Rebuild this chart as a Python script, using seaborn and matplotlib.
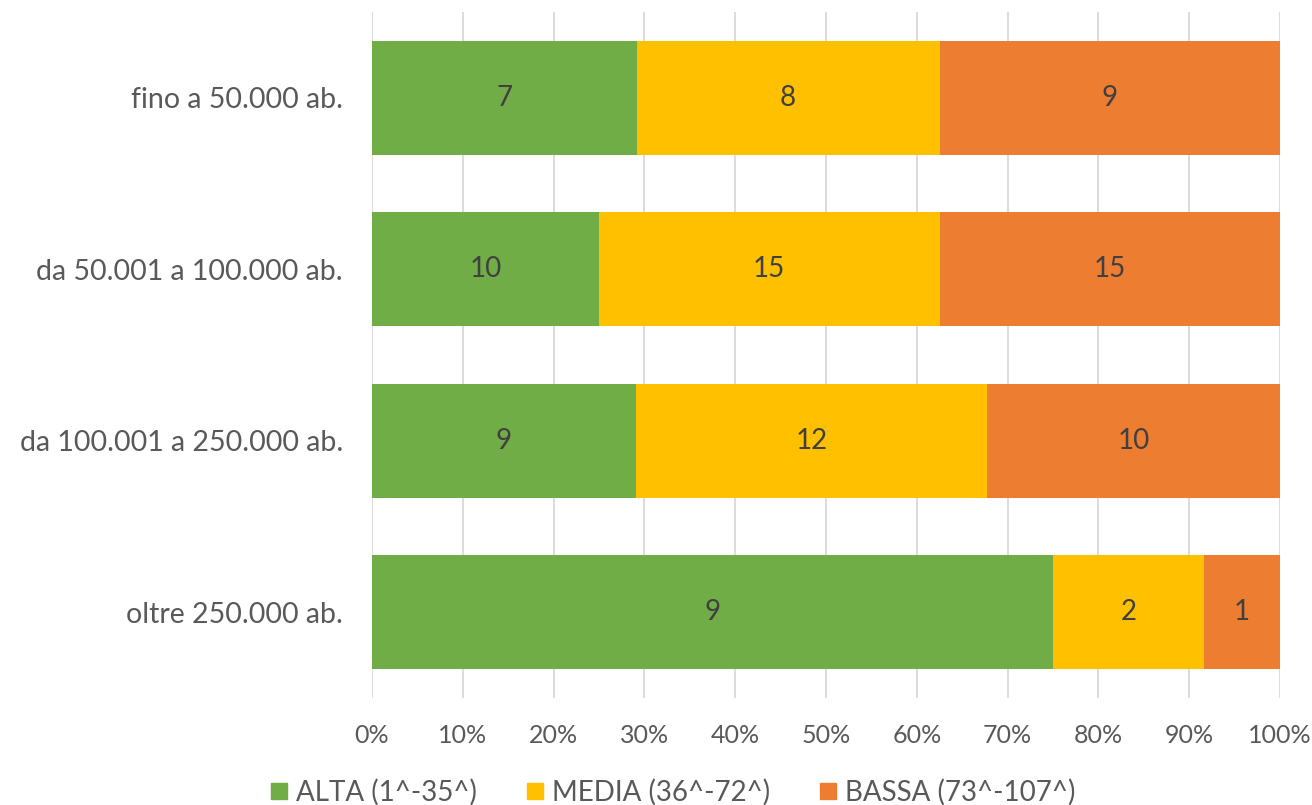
import numpy as np
import pandas as pd
import matplotlib
matplotlib.use("Agg")
import matplotlib.pyplot as plt
from matplotlib.lines import Line2D
import seaborn as sns

categories = ["fino a 50.000 ab.", "da 50.001 a 100.000 ab.",
              "da 100.001 a 250.000 ab.", "oltre 250.000 ab."]
alta = [7, 10, 9, 9]
media = [8, 15, 12, 2]
bassa = [9, 15, 10, 1]
series_names = ["ALTA (1^-35^)", "MEDIA (36^-72^)", "BASSA (73^-107^)"]
colors = ["#70AD47", "#FFC000", "#ED7D31"]
xtick_labels = [f"{v}%" for v in range(0, 101, 10)]

sns.set_theme(style="white")
plt.rcParams["font.family"] = ["Lato", "DejaVu Sans"]
text_color = "#595959"

counts = np.array([alta, media, bassa], dtype=float)
totals = counts.sum(axis=0)
pct = counts / totals * 100
cum = np.cumsum(pct, axis=0)

fig = plt.figure(figsize=(13.12, 8.05), dpi=100)
ax = fig.add_axes([372/1312, 1 - 698/805, (1280-372)/1312, (698-12)/805])

# draw stacked bars: largest cumulative first, then overlay
for i in [2, 1, 0]:
    df = pd.DataFrame({"cat": categories, "val": cum[i]})
    sns.barplot(data=df, x="val", y="cat", color=colors[i], orient="h",
                width=0.666, saturation=1, ax=ax, zorder=2, linewidth=0)

left = cum - pct
for i in range(3):
    for j, cat in enumerate(categories):
        ax.text(left[i, j] + pct[i, j] / 2, j, f"{int(counts[i, j])}",
                ha="center", va="center", fontsize=20, color="#404040", zorder=3)

ax.set_xlim(0, 100)
ax.set_ylim(3.5, -0.5)
ax.set_xticks(range(0, 101, 10))
ax.set_xticklabels(xtick_labels)
ax.xaxis.grid(True, color="#D9D9D9", linewidth=1.3, zorder=0)
ax.set_axisbelow(True)
ax.set_xlabel("")
ax.set_ylabel("")
for s in ax.spines.values():
    s.set_visible(False)
ax.tick_params(axis="x", length=0, pad=19, labelsize=18, labelcolor=text_color)
ax.tick_params(axis="y", length=0, pad=21, labelsize=20.5, labelcolor=text_color)

handles = [Line2D([0], [0], marker="s", linestyle="", markersize=11,
                  markerfacecolor=c, markeredgecolor=c) for c in colors]
fig.legend(handles, series_names, loc="center",
           bbox_to_anchor=(0.5 + 17/1312, 1 - 792/805),
           ncol=3, frameon=False, fontsize=20, labelcolor=text_color,
           handletextpad=0.3, columnspacing=1.8, handlelength=0.6)

fig.savefig("out.png", dpi=100)
